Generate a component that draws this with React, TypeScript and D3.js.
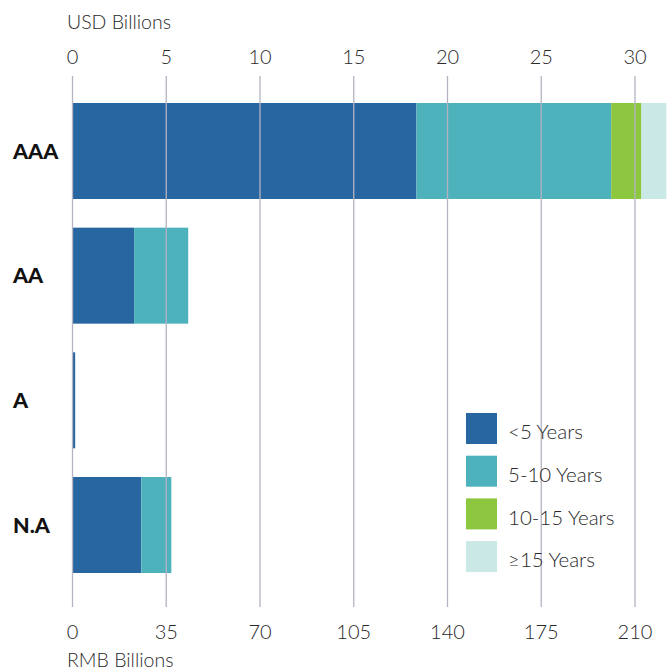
import React from "react";
import * as d3 from "d3";

const categories = ["AAA", "AA", "A", "N.A"];
const seriesNames = ["<5 Years", "5-10 Years", "10-15 Years", "≥15 Years"];
const seriesColors = ["#2866a1", "#4db2bc", "#8dc63f", "#c9e8e6"];
// RMB billions per category, per series
const lt5 = [128.4, 23.0, 1.0, 25.7];
const y5to10 = [72.7, 20.2, 0, 11.2];
const y10to15 = [11.3, 0, 0, 0];
const ge15 = [9.3, 0, 0, 0];
const rmbTicks = [0, 35, 70, 105, 140, 175, 210];
const usdTicks = [0, 5, 10, 15, 20, 25, 30];

const W = 672;
const H = 672;
const lightFont = "Lato, 'Open Sans', sans-serif";

export default function App() {
  const x = d3.scaleLinear().domain([0, 210]).range([72.5, 635]);
  const xUsd = d3.scaleLinear().domain([0, 30]).range([72.5, 635]);
  const y = d3
    .scaleBand<string>()
    .domain(categories)
    .range([88.67, 587.33])
    .paddingInner(0.23)
    .paddingOuter(0.115);

  const rows = categories.map((c, i) => ({
    cat: c,
    "<5 Years": lt5[i],
    "5-10 Years": y5to10[i],
    "10-15 Years": y10to15[i],
    "≥15 Years": ge15[i],
  }));
  const stacked = d3.stack<any>().keys(seriesNames)(rows);

  return (
    <svg
      width={W}
      height={H}
      style={{ position: "absolute", left: 0, top: 0, background: "#fff" }}
    >
      {/* bars */}
      {stacked.map((layer, si) => (
        <g key={si} fill={seriesColors[si]}>
          {layer.map((d, i) =>
            d[1] - d[0] > 0 ? (
              <rect
                key={i}
                x={x(d[0])}
                y={y(categories[i])}
                width={x(d[1]) - x(d[0])}
                height={y.bandwidth()}
              />
            ) : null
          )}
        </g>
      ))}
      {/* gridlines */}
      {rmbTicks.map((t) => (
        <line
          key={t}
          x1={x(t)}
          x2={x(t)}
          y1={76}
          y2={607}
          stroke="#b4b3c2"
          strokeWidth={1.3}
        />
      ))}
      {/* top axis */}
      <text x={67} y={29} fontFamily={lightFont} fontWeight={300} fontSize={19.5} fill="#2a2a2a">
        USD Billions
      </text>
      {usdTicks.map((t) => (
        <text
          key={t}
          x={xUsd(t)}
          y={64}
          textAnchor="middle"
          fontFamily={lightFont}
          fontWeight={300}
          fontSize={20}
          fill="#2a2a2a"
        >
          {t}
        </text>
      ))}
      {/* bottom axis */}
      {rmbTicks.map((t) => (
        <text
          key={t}
          x={x(t)}
          y={639}
          textAnchor="middle"
          fontFamily={lightFont}
          fontWeight={300}
          fontSize={20}
          fill="#2a2a2a"
        >
          {t}
        </text>
      ))}
      <text x={67} y={667} fontFamily={lightFont} fontWeight={300} fontSize={19.5} fill="#2a2a2a">
        RMB Billions
      </text>
      {/* category labels */}
      {categories.map((c) => (
        <text
          key={c}
          x={13}
          y={(y(c) as number) + y.bandwidth() / 2}
          dy="0.36em"
          fontFamily="Lato, 'Open Sans', sans-serif"
          fontWeight={900}
          fontSize={21.5}
          fill="#111"
        >
          {c}
        </text>
      ))}
      {/* legend */}
      {seriesNames.map((s, i) => (
        <g key={s} transform={`translate(466, ${413 + i * 42.7})`}>
          <rect width={31} height={31} fill={seriesColors[i]} />
          <text
            x={42}
            y={19}
            dy="0.36em"
            fontFamily={lightFont}
            fontWeight={300}
            fontSize={20.5}
            fill="#2a2a2a"
          >
            {s}
          </text>
        </g>
      ))}
    </svg>
  );
}
